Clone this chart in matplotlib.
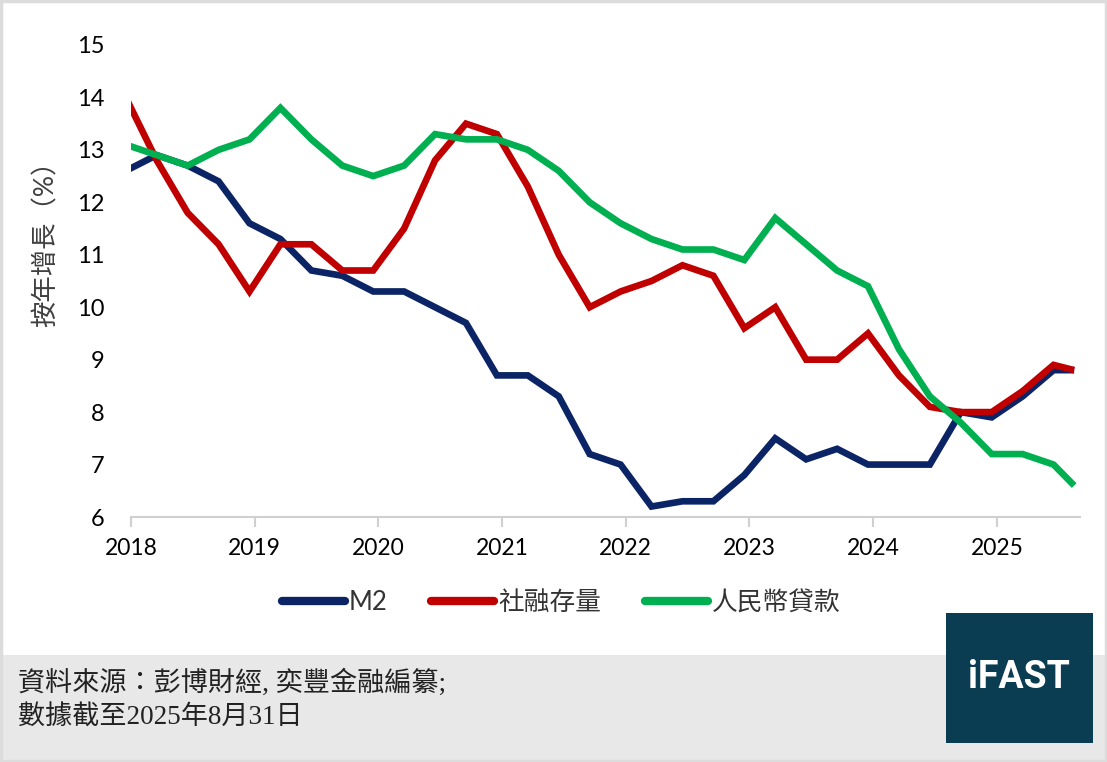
import numpy as np
import matplotlib
matplotlib.use("Agg")
import matplotlib.pyplot as plt
from matplotlib.patches import Rectangle

plt.rcParams['font.family'] = ['Lato', 'Noto Sans CJK TC', 'DejaVu Sans']

# quarterly readings (Dec 2017 ... Jun 2025) plus Aug 2025
dates = ["2017-12",
         "2018-03", "2018-06", "2018-09", "2018-12",
         "2019-03", "2019-06", "2019-09", "2019-12",
         "2020-03", "2020-06", "2020-09", "2020-12",
         "2021-03", "2021-06", "2021-09", "2021-12",
         "2022-03", "2022-06", "2022-09", "2022-12",
         "2023-03", "2023-06", "2023-09", "2023-12",
         "2024-03", "2024-06", "2024-09", "2024-12",
         "2025-03", "2025-06", "2025-08"]

m2    = [12.6, 12.9, 12.7, 12.4, 11.6, 11.3, 10.7, 10.6, 10.3, 10.3, 10.0, 9.7,
         8.7, 8.7, 8.3, 7.2, 7.0, 6.2, 6.3, 6.3, 6.8, 7.5, 7.1, 7.3,
         7.0, 7.0, 7.0, 8.0, 7.9, 8.3, 8.8, 8.8]
tsf   = [14.0, 12.8, 11.8, 11.2, 10.3, 11.2, 11.2, 10.7, 10.7, 11.5, 12.8, 13.5,
         13.3, 12.3, 11.0, 10.0, 10.3, 10.5, 10.8, 10.6, 9.6, 10.0, 9.0, 9.0,
         9.5, 8.7, 8.1, 8.0, 8.0, 8.4, 8.9, 8.8]
loans = [13.1, 12.9, 12.7, 13.0, 13.2, 13.8, 13.2, 12.7, 12.5, 12.7, 13.3, 13.2,
         13.2, 13.0, 12.6, 12.0, 11.6, 11.3, 11.1, 11.1, 10.9, 11.7, 11.2, 10.7,
         10.4, 9.2, 8.3, 7.8, 7.2, 7.2, 7.0, 6.6]

series_names  = ["M2", "社融存量", "人民幣貸款"]
series_colors = ["#0b2466", "#c00000", "#00b050"]
year_ticks = list(range(2018, 2026))
y_ticks = list(range(6, 16))

# place each month at its middle
x = np.array([int(d[:4]) + (int(d[5:]) - 0.5) / 12 for d in dates])

fig = plt.figure(figsize=(11.07, 7.62), dpi=100)

# bottom grey band, thin frame, logo box
fig.patches.append(Rectangle((0, 0), 1, 0.1404, transform=fig.transFigure,
                             facecolor="#e8e8e8", edgecolor="none", zorder=0))
fig.patches.append(Rectangle((0.001, 0.001), 0.998, 0.998, transform=fig.transFigure,
                             facecolor="none", edgecolor="#dcdcdc", lw=2.5, zorder=1))
fig.patches.append(Rectangle((0.8546, 0.0249), 0.1328, 0.1706, transform=fig.transFigure,
                             facecolor="#0b3d52", edgecolor="none", zorder=2))
fig.text(0.9205, 0.111, "iFAST", color="white", fontsize=27, fontweight="bold",
         family=["Roboto", "DejaVu Sans"], ha="center", va="center", zorder=3)

ax = fig.add_axes([0.1183, 0.3215, 0.8573, 0.6195])
for vals, name, col in zip([m2, tsf, loans], series_names, series_colors):
    ax.plot(x, vals, color=col, lw=4.8, label=name, solid_capstyle="butt",
            solid_joinstyle="miter")

ax.set_xlim(2018, 2025.672)
ax.set_ylim(6, 15)
ax.set_xticks(year_ticks)
ax.set_xticklabels([str(t) for t in year_ticks])
ax.set_yticks(y_ticks)
ax.tick_params(axis="y", length=0, pad=19, labelsize=17, colors="#000000")
ax.tick_params(axis="x", length=7, width=1.5, color="#d0d0d0", pad=8, labelsize=16.5)
for s in ["top", "right", "left"]:
    ax.spines[s].set_visible(False)
ax.spines["bottom"].set_color("#d0d0d0")
ax.spines["bottom"].set_linewidth(1.5)

fig.text(0.042, 0.689, "按年增長（%）", rotation=90, ha="center", va="center",
         fontsize=19, color="#404040")

leg = fig.legend(*ax.get_legend_handles_labels(), loc="center", bbox_to_anchor=(0.507, 0.209),
                 ncol=3, frameon=False, fontsize=18.5, handlelength=2.45, handletextpad=0.15,
                 columnspacing=1.7)
for h in leg.get_lines():
    h.set_linewidth(6)
    h.set_solid_capstyle("round")
for t in leg.get_texts():
    t.set_color("#333333")

src_font = ["Liberation Serif", "Noto Sans CJK TC", "DejaVu Sans"]
fig.text(0.0163, 0.1037, "資料來源：彭博財經, 奕豐金融編纂;", fontsize=19.5, family=src_font,
         ha="left", va="center", color="#222222")
fig.text(0.0163, 0.0577, "數據截至2025年8月31日", fontsize=19.5, family=src_font,
         ha="left", va="center", color="#222222")

fig.savefig("out.png", dpi=100)
